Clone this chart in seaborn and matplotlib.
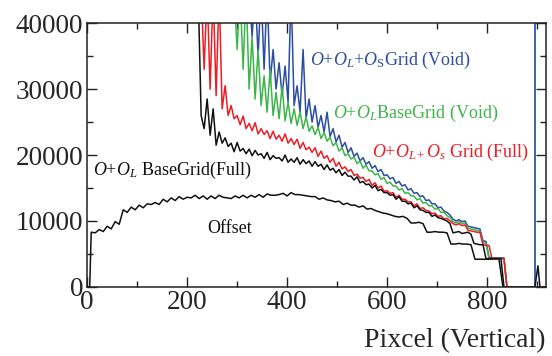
import numpy as np
import pandas as pd
import matplotlib
matplotlib.use("Agg")
import matplotlib.pyplot as plt
import seaborn as sns
from matplotlib.ticker import MultipleLocator

# values (x step 8 for offset, 6 for the others)
offset_x = [0, 5] + list(range(8, 841, 8)) + [896, 902, 906, 918]
offset_y = [0, 0,
            8300, 8200, 8700, 8400, 9200, 8800, 9900, 9500, 11700, 11300,
            12100, 11700, 12400, 12000, 12600, 12500, 12800, 12500, 13300, 12900,
            13500, 13100, 13700, 13300, 13600, 13500, 13900, 13400, 13800, 13300,
            13800, 13400, 13900, 13600, 13500, 13400, 13800, 13500, 13900, 13500,
            13900, 13600, 14000, 13600, 14100, 13900, 13900, 14000, 14200, 13800,
            14300, 14000, 14000, 13900, 13800, 13700, 13700, 13300, 13500, 13200,
            13100, 12900, 13000, 12500, 12700, 12400, 12400, 12100, 12300, 11800,
            11900, 11600, 11400, 11200, 11100, 10900, 10700, 10600, 10700, 10400,
            9700, 9700, 9800, 9600, 8300, 8300, 8400, 8300, 8300, 8200,
            6500, 6500, 6600, 6500, 6500, 6400, 4200, 4200, 4200, 4200,
            4200, 4200, 4200, 0, 0,
            0, 3200, 0, 0]

full_x0 = 216
full_y = [45000, 45000, 26000, 24000, 28500, 23000, 27000, 21500, 23500, 21800,
          22600, 21300, 21800, 20500, 21900, 20600, 21000, 20200, 20900, 19900,
          20700, 20000, 20200, 19500, 20400, 19300, 19900, 19500, 19600, 19100,
          20000, 18900, 19400, 18900, 19600, 18600, 19300, 18700, 19100, 18300,
          19000, 18300, 18600, 17800, 18500, 17700, 18000, 17300, 17800, 16900,
          17400, 16800, 16800, 16200, 16700, 15800, 16000, 15500, 15600, 15000,
          15400, 14600, 14800, 14300, 14300, 13900, 14000, 13300, 13700, 13000,
          13000, 12600, 12700, 12000, 12300, 11700, 11600, 11300, 11300, 10700,
          10900, 10500, 10400, 10200, 10000, 9600, 8200, 8300, 8400, 8100,
          8200, 8300, 8000, 6600, 6500, 6400, 6400, 4300, 4300, 4300,
          4300, 4300, 4300, 0, 0]

red_x0 = 228
red_y = [45000, 33000, 45000, 30000, 45000, 29000, 45000, 27000, 30500, 26000,
         27500, 25500, 26000, 24600, 25900, 24000, 24800, 23700, 24900, 23200,
         24000, 23100, 23700, 22500, 23600, 22400, 23000, 22100, 23200, 21800,
         22500, 21600, 22400, 21000, 21900, 20800, 21200, 20400, 21100, 19800,
         20600, 19500, 19900, 18900, 19500, 18300, 18900, 17900, 18200, 17500,
         17800, 16900, 17100, 16500, 16600, 16000, 16300, 15400, 15800, 15000,
         15300, 14500, 14600, 14200, 14300, 13600, 13900, 13300, 13300, 12900,
         12900, 12300, 12600, 11900, 12000, 11600, 11500, 11100, 11200, 10700,
         10800, 10300, 10400, 10000, 9600, 9400, 9600, 9300, 9400, 8600,
         8500, 8400, 8300, 8300, 6400, 6300, 6300, 4300, 4300, 4300,
         4300, 4300, 0]

green_x0 = 294
green_y = [45000, 36000, 45000, 33000, 45000, 30000, 38000, 28500, 36000, 27500,
           32000, 26500, 33000, 26000, 29500, 25500, 30500, 25200, 28000, 24800,
           27000, 24500, 26500, 24000, 25800, 23600, 24400, 23100, 24200, 22500,
           23400, 22100, 22700, 21400, 21900, 20600, 21100, 19900, 20200, 19400,
           19700, 18700, 19100, 18000, 18500, 17600, 17600, 17000, 17200, 16300,
           16600, 15700, 15900, 15300, 15300, 14700, 14900, 14200, 14300, 13800,
           13800, 13200, 13400, 12700, 12800, 12300, 12300, 11800, 11900, 11300,
           11300, 10800, 10500, 9900, 9700, 9900, 9600, 9700, 8900, 8800,
           8700, 8600, 8500, 6700, 6600, 4300, 4300, 4300, 4300, 4300,
           4300, 0]

blue_x0 = 324
blue_y = [45000, 38000, 45000, 35000, 45000, 33000, 45000, 31000, 36000, 30000,
          34000, 29000, 33500, 28000, 45000, 27500, 30500, 26500, 36000, 25500,
          28500, 25000, 27500, 24200, 26000, 23500, 26500, 22800, 24000, 22000,
          23000, 21200, 21900, 20400, 21100, 19800, 20300, 19100, 19600, 18600,
          19000, 18000, 18400, 17500, 17800, 16900, 17000, 16400, 16600, 15700,
          16000, 15300, 15500, 14700, 14900, 14200, 14300, 13700, 13800, 13100,
          13200, 12600, 12600, 12000, 12100, 11500, 11300, 10900, 10300, 10000,
          10200, 9900, 10000, 9200, 9100, 9000, 8900, 8800, 7000, 6900,
          4500, 4400, 4400, 4400, 4400, 4400, 0]
blue_marker_x = 896

colors = {"offset": "#111111", "full": "#111111", "red": "#ee1c25",
          "green": "#3db54a", "blue": "#2b4ea2"}

sns.set_theme(style="ticks")
plt.rcParams["font.family"] = ["Liberation Serif", "DejaVu Serif"]
plt.rcParams["mathtext.fontset"] = "custom"
plt.rcParams["mathtext.rm"] = "Liberation Serif"
plt.rcParams["mathtext.it"] = "Liberation Serif:italic"

fig = plt.figure(figsize=(5.52, 3.56), dpi=100)
ax = fig.add_axes([0.158, 0.194, 0.831, 0.741])

def series(x0, vals):
    return np.arange(x0, x0 + 6 * len(vals), 6), vals

ax.axvline(blue_marker_x, color="#3a66a8", lw=1.4)
sns.lineplot(x=offset_x, y=offset_y, color=colors["offset"], lw=1.1, sort=False, estimator=None, ax=ax)
for key, (x0, vals) in [("blue", (blue_x0, blue_y)), ("green", (green_x0, green_y)),
                        ("red", (red_x0, red_y)), ("full", (full_x0, full_y))]:
    xs, ys = series(x0, vals)
    sns.lineplot(x=xs, y=ys, color=colors[key], lw=1.1, sort=False, estimator=None, ax=ax)

ax.set_xlim(0, 918)
ax.set_ylim(0, 40000)
ax.xaxis.set_major_locator(MultipleLocator(200))
ax.xaxis.set_minor_locator(MultipleLocator(100))
ax.yaxis.set_major_locator(MultipleLocator(10000))
ax.yaxis.set_minor_locator(MultipleLocator(5000))
ax.tick_params(which="both", direction="in", top=True, right=True, labelsize=19.5,
               color="#222222")
ax.tick_params(which="major", length=7, width=1.0)
ax.tick_params(which="minor", length=4, width=1.0)
ax.tick_params(axis="x", pad=2)
ax.tick_params(axis="y", pad=3)
for sp in ax.spines.values():
    sp.set_linewidth(1.1)
    sp.set_color("#222222")

ax.set_xlabel("Pixcel (Vertical)", fontsize=20, loc="right")
ax.xaxis.set_label_coords(1.0, -0.155)
ax.set_ylabel("")

ax.text(0.486, 0.860, r"$O$+$O_L$+$O_\mathrm{S}$Grid (Void)", color=colors["blue"],
        fontsize=13, transform=ax.transAxes, va="center")
ax.text(0.536, 0.659, r"$O$+$O_L$BaseGrid (Void)", color=colors["green"],
        fontsize=13, transform=ax.transAxes, va="center")
ax.text(0.621, 0.508, r"$O$+$O_{L+}O_s$ Grid (Full)", color=colors["red"],
        fontsize=13, transform=ax.transAxes, va="center")
ax.text(0.013, 0.443, r"$O$+$O_L$ BaseGrid(Full)", color="#111111",
        fontsize=13, transform=ax.transAxes, va="center")
ax.text(0.261, 0.220, "Offset", color="#111111",
        fontsize=13, transform=ax.transAxes, va="center")

fig.savefig("out.png", dpi=100)
